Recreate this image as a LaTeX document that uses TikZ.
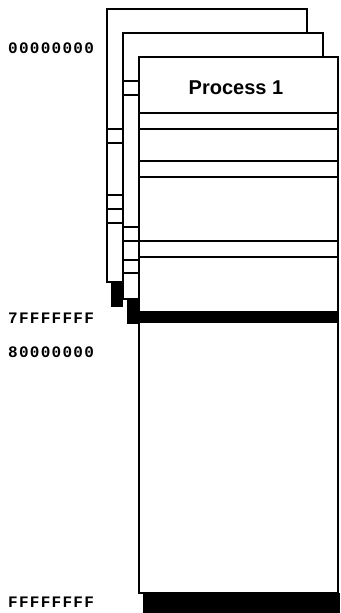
\documentclass[tikz,border=0pt]{standalone}
\usepackage{fontspec}
\setmainfont{Liberation Sans}
\newfontfamily\addrfont[LetterSpace=8]{Liberation Mono}
\tikzset{
  pagebox/.style={draw=black, fill=white, line width=1.2pt},
  rule/.style={draw=black, line width=1.2pt},
  shadow/.style={fill=black},
  addr/.style={anchor=west, inner sep=0pt, font=\addrfont\bfseries\fontsize{16}{16}\selectfont},
  title/.style={inner sep=0pt, font=\bfseries\fontsize{20}{20}\selectfont}
}
\begin{document}
\begin{tikzpicture}[x=1pt,y=-1pt]
\useasboundingbox (0,0) rectangle (340,613);
% back page
\fill[shadow] (111,282) rectangle (123,307);
\draw[pagebox] (107,9) rectangle (307,282);
\foreach \yy in {129,143,195,209,223} \draw[rule] (107,\yy) -- (123,\yy);
% middle page
\fill[shadow] (127,299) rectangle (139,324);
\draw[pagebox] (123,33) rectangle (323,299);
\foreach \yy in {81,95,227,241,260,273} \draw[rule] (123,\yy) -- (139,\yy);
% front page
\fill[shadow] (127,312) rectangle (339,322);
\fill[shadow] (143,593) rectangle (340,613);
\draw[pagebox] (139,57) rectangle (338,312);
\draw[pagebox] (139,322) rectangle (338,593);
\foreach \yy in {113,129,161,177,241,257} \draw[rule] (139,\yy) -- (338,\yy);
\node[title] (p1) at (236,88) {Process 1};
% addresses
\node[addr] (a0) at (8,48) {00000000};
\node[addr] (a7) at (8,318) {7FFFFFFF};
\node[addr] (a8) at (8,352) {80000000};
\node[addr] (af) at (8,602) {FFFFFFFF};
\end{tikzpicture}
\end{document}
